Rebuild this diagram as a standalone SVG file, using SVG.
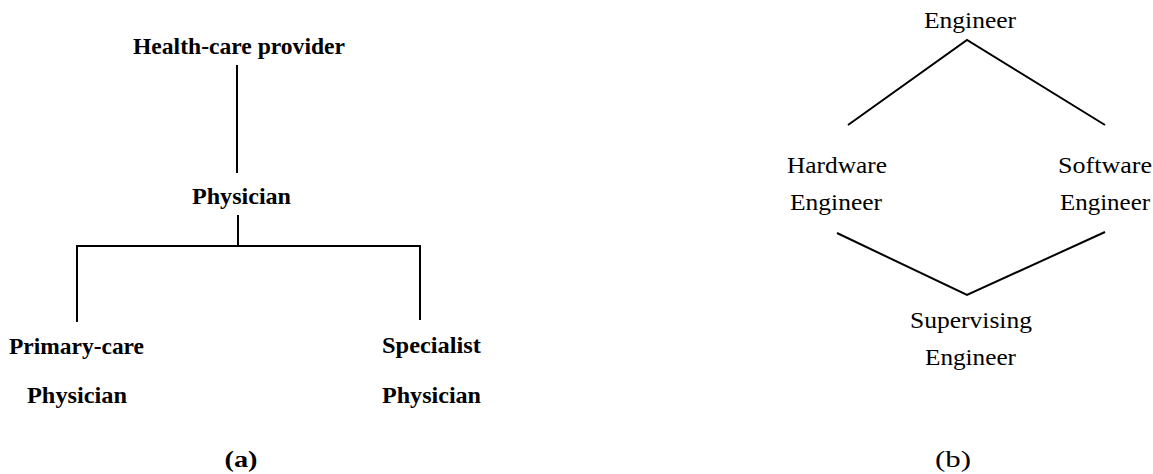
<svg xmlns="http://www.w3.org/2000/svg" width="1153" height="474" viewBox="0 0 1153 474">
<style>
text{font-family:'Liberation Serif',Tinos,'Times New Roman',Times,serif;font-size:24px;fill:#000;text-anchor:middle}
.b{font-weight:bold}
.c line,.c polyline,.c path{stroke:#000;stroke-width:2;fill:none}
</style>
<rect width="1153" height="474" fill="#fff"/>
<g class="c" id="connectors">
<line x1="237" y1="65" x2="237" y2="173"/>
<line x1="238" y1="215" x2="238" y2="246"/>
<path d="M77 322 V246 H420 V320"/>
<polyline points="848,125 967,40 1105,125"/>
<polyline points="837,233 967,295 1105,232"/>
</g>
<g id="n-health"><text class="b" x="239" y="54" textLength="212" lengthAdjust="spacingAndGlyphs">Health-care provider</text></g>
<g id="n-physician"><text class="b" x="241.5" y="204" textLength="99" lengthAdjust="spacingAndGlyphs">Physician</text></g>
<g id="n-primary"><text class="b" x="76.5" y="354" textLength="135" lengthAdjust="spacingAndGlyphs">Primary-care</text><text class="b" x="77" y="403" textLength="100" lengthAdjust="spacingAndGlyphs">Physician</text></g>
<g id="n-specialist"><text class="b" x="431.5" y="353" textLength="99" lengthAdjust="spacingAndGlyphs">Specialist</text><text class="b" x="431.5" y="403" textLength="99" lengthAdjust="spacingAndGlyphs">Physician</text></g>
<g id="label-a"><text class="b" x="241" y="467" textLength="33" lengthAdjust="spacingAndGlyphs">(a)</text></g>
<g id="n-engineer"><text x="970" y="28" textLength="92" lengthAdjust="spacingAndGlyphs">Engineer</text></g>
<g id="n-hardware"><text x="837" y="173" textLength="100" lengthAdjust="spacingAndGlyphs">Hardware</text><text x="836" y="210" textLength="92" lengthAdjust="spacingAndGlyphs">Engineer</text></g>
<g id="n-software"><text x="1105" y="173" textLength="94" lengthAdjust="spacingAndGlyphs">Software</text><text x="1105" y="210" textLength="90" lengthAdjust="spacingAndGlyphs">Engineer</text></g>
<g id="n-supervising"><text x="971" y="328" textLength="122" lengthAdjust="spacingAndGlyphs">Supervising</text><text x="970.5" y="365" textLength="91" lengthAdjust="spacingAndGlyphs">Engineer</text></g>
<g id="label-b"><text x="953" y="467" textLength="36" lengthAdjust="spacingAndGlyphs">(b)</text></g>
</svg>
